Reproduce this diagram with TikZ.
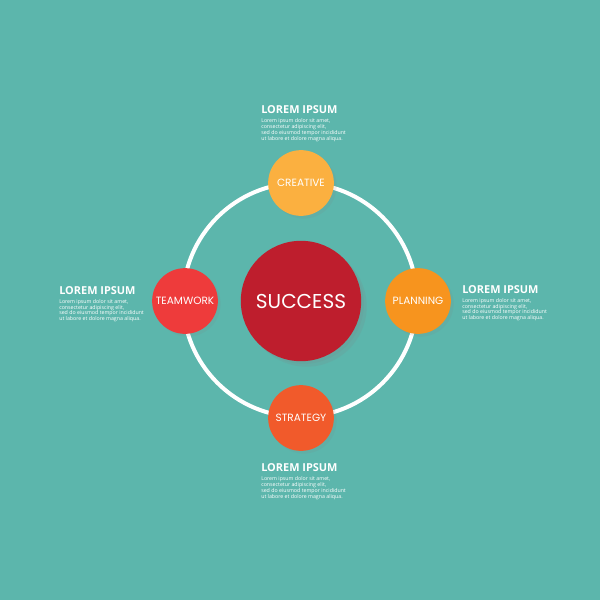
\documentclass[tikz,border=0pt]{standalone}
\usepackage{fontspec}
\setmainfont{Open Sans}
\newfontfamily\labelfont{Poppins}
\usetikzlibrary{shadows}

\definecolor{teal bg}{HTML}{5CB6AC}
\definecolor{creativecol}{HTML}{FBB040}
\definecolor{planningcol}{HTML}{F7941E}
\definecolor{strategycol}{HTML}{F15A2B}
\definecolor{teamworkcol}{HTML}{EE3B3B}
\definecolor{successcol}{HTML}{BE1E2D}

\tikzset{
  ball/.style={circle,minimum size=47.5pt,inner sep=0pt,text=white,
    font=\labelfont\fontsize{7.6}{8}\selectfont,
    drop shadow={opacity=0.12,shadow xshift=2pt,shadow yshift=-2pt}},
  heading/.style={anchor=west,inner sep=0pt,text=white,
    font=\bfseries\fontsize{7.9}{8}\selectfont},
  blurb/.style={anchor=north west,inner sep=0pt,align=left,text=white,
    font=\fontsize{3.8}{4.2}\selectfont},
}

\newcommand{\loremtext}{Lorem ipsum dolor sit amet,\\ consectetur adipiscing elit,\\
  sed do eiusmod tempor incididunt\\ ut labore et dolore magna aliqua.}

\begin{document}
\begin{tikzpicture}[x=0.254mm,y=-0.254mm]

  % background
  \fill[teal bg] (0,0) rectangle (600,600);
  \useasboundingbox (0,0) rectangle (600,600);

  % ring
  \draw[white,line width=2.9pt] (300,300) circle[radius=117];

  % centre
  \node[ball,fill=successcol,minimum size=87pt,
        font=\labelfont\fontsize{14.5}{16}\selectfont,
        drop shadow={opacity=0.15,shadow xshift=4pt,shadow yshift=-4pt}]
    (success) at (301,301) {SUCCESS};

  % four satellites
  \node[ball,fill=creativecol] (creative) at (301,183) {CREATIVE};
  \node[ball,fill=planningcol] (planning) at (418,301) {PLANNING};
  \node[ball,fill=strategycol] (strategy) at (301,418) {STRATEGY};
  \node[ball,fill=teamworkcol] (teamwork) at (185,301) {TEAMWORK};

  % text blocks
  \node[heading] (toptitle) at (261,110) {LOREM IPSUM};
  \node[blurb] (topbody) at (261,118.5) {\loremtext};

  \node[heading] (lefttitle) at (59,290.5) {LOREM IPSUM};
  \node[blurb] (leftbody) at (59,299) {\loremtext};

  \node[heading] (righttitle) at (462,289.5) {LOREM IPSUM};
  \node[blurb] (rightbody) at (462,298) {\loremtext};

  \node[heading] (bottitle) at (261,468) {LOREM IPSUM};
  \node[blurb] (botbody) at (261,476.5) {\loremtext};

\end{tikzpicture}
\end{document}
